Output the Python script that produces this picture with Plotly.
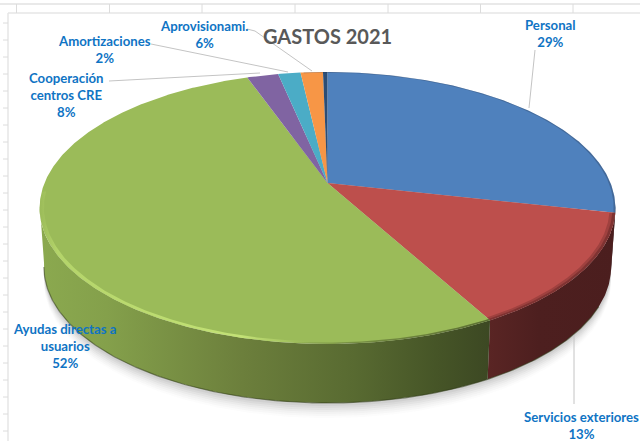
import numpy as np
import plotly.graph_objects as go

categories = ["Personal", "Servicios exteriores", "Ayudas directas a usuarios",
              "Cooperación centros CRE", "Amortizaciones", "Aprovisionami.", "Otros"]
values = [28.5, 13.5, 52.6, 2.1, 1.5, 1.5, 0.3]
colors = ["#4f81bd", "#bd4f4c", "#9bbb59", "#8064a2", "#4bacc6", "#f79646", "#2c4d75"]
label_text = ["Personal<br>29%", "Servicios exteriores<br>13%", "Ayudas directas a<br>usuarios<br>52%",
              "Cooperación<br>centros CRE<br>8%", "Amortizaciones<br>2%", "Aprovisionami.<br>6%"]
label_pos = [(550, 33), (581, 425), (64, 346), (66, 95), (104, 49), (204, 34)]
leaders = [([535, 529], [50, 108]), ([574, 574], [335, 404]), ([109, 260], [81, 73]),
           ([151, 288], [44, 72]), ([247, 255, 312], [29, 31, 71])]

CX, CY, A, B, K, DEPTH = 327.5, 183, 283, 131.4, 0.184, 60

def rim(theta, scale=1.0, dy=0.0, xs=1.0):
    x = A * np.sin(theta) * scale * xs / (1 + K * np.cos(theta))
    y = -B * np.cos(theta) * scale / (1 + K * np.cos(theta))
    return CX + x, CY + y + dy

def arc(a, b, n=None):
    n = n or max(3, int(abs(b - a) * 120))
    return np.linspace(a, b, n)

edges = 2 * np.pi * np.cumsum([0] + values) / sum(values)
fig = go.Figure()

def poly(x, y, color=None, gradient=None, **kw):
    d = dict(x=list(x), y=list(y), mode="lines", line=dict(width=0), fill="toself", hoverinfo="skip", showlegend=False)
    if gradient:
        d["fillgradient"] = dict(type="horizontal", colorscale=gradient)
    else:
        d["fillcolor"] = color
    d.update(kw)
    fig.add_trace(go.Scatter(**d))

ext = np.pi - np.arccos(K)   # right-most rim angle
ext_left = 2 * np.pi - ext

# soft shadow
full = arc(0, 2 * np.pi, 400)
for grow, alpha in [(14, .02), (12, .03), (10, .03), (8, .04), (6, .05), (4, .06), (2, .07)]:
    x, y = rim(full, 1, DEPTH + grow, 0.985)
    poly(x, y, f"rgba(80,80,80,{alpha})")

def wall(a, b, color=None, gradient=None):
    t = arc(a, b)
    x1, y1 = rim(t)
    x2, y2 = rim(t[::-1], 1, DEPTH - 1, 0.985)
    poly(np.r_[x1, x2], np.r_[y1, y2], color, gradient)

wall(ext - .03, edges[1], "#3a2a30")
wall(edges[1], edges[2], gradient=[[0, "#5a2524"], [.4, "#4d1f1f"], [1, "#4b1e1e"]])
wall(edges[2], ext_left + .03, gradient=[[0, "#8ba94f"], [.15, "#84a04b"], [.45, "#6c7f3c"],
                                           [.7, "#586a31"], [.88, "#465527"], [1, "#3c4823"]])
# dark lower edge of the wall
t = arc(edges[2] - .6, ext_left)
x, y = rim(t, 1, DEPTH - 1, 0.985)
fig.add_trace(go.Scatter(x=x, y=y, mode="lines", line=dict(color="rgba(50,60,25,.55)", width=1.2),
                         hoverinfo="skip", showlegend=False))

# top face
for i, c in enumerate(colors):
    t = arc(edges[i], edges[i + 1])
    x, y = rim(t)
    poly(np.r_[CX, x, CX], np.r_[CY, y, CY], c)

def crescent(a, b, width, color=None, gradient=None):
    t = arc(a, b)
    x1, y1 = rim(t)
    x2, y2 = rim(t[::-1], width)
    poly(np.r_[x1, x2], np.r_[y1, y2], color, gradient)

# bevel highlights / shading along the rim
crescent(edges[2], ext_left + .12, .985, gradient=[[0, "rgba(200,232,120,0)"], [.04, "rgba(200,232,120,.55)"], [.2, "rgba(200,232,120,.7)"],
                                             [.45, "rgba(205,235,125,.8)"], [.6, "rgba(190,220,115,0)"], [1, "rgba(190,220,115,0)"]])
crescent(edges[2], ext_left, .99, gradient=[[0, "rgba(50,60,25,0)"], [.55, "rgba(50,60,25,0)"], [.7, "rgba(50,60,25,.35)"], [1, "rgba(50,60,25,.6)"]])
crescent(edges[1], edges[2], .98, "rgba(70,25,25,.25)")
crescent(edges[1], edges[2], .99, "rgba(70,25,25,.35)")
crescent(edges[0] - .1, edges[1], .994, "rgba(40,50,70,.3)")

# leader lines
for lx, ly in leaders:
    fig.add_trace(go.Scatter(x=lx, y=ly, mode="lines", line=dict(color="#c4c4c4", width=1),
                             hoverinfo="skip", showlegend=False))

for txt, (x, y) in zip(label_text, label_pos):
    fig.add_annotation(x=x, y=y, text=f"<b>{txt}</b>", showarrow=False, align="center",
                       font=dict(family="Lato", size=13.2, color="#0f74c4"))
fig.add_annotation(x=327, y=36, text="<b>GASTOS 2021</b>", showarrow=False,
                   font=dict(family="Lato", size=20, color="#595959"))

# worksheet grid behind the chart
G = "#dcdcdc"
shapes = [dict(type="line", x0=0, x1=640, y0=4, y1=4, line=dict(color="#e2e2e2", width=1.5)),
          dict(type="line", x0=8, x1=640, y0=13, y1=13, line=dict(color="#e6e6e6", width=1.5)),
          dict(type="line", x0=8, x1=8, y0=13, y1=441, line=dict(color="#e6e6e6", width=1.5))]
for gx in [16.5, 109.5, 202, 295, 388, 480.5, 573]:
    shapes.append(dict(type="line", x0=gx, x1=gx, y0=4, y1=13, line=dict(color=G, width=1)))
for gy in range(23, 441, 17):
    shapes.append(dict(type="line", x0=3, x1=8, y0=gy, y1=gy, line=dict(color=G, width=1)))

fig.update_layout(width=640, height=441, margin=dict(l=0, r=0, t=0, b=0),
                  paper_bgcolor="white", plot_bgcolor="white", shapes=shapes, showlegend=False,
                  xaxis=dict(range=[0, 640], visible=False, fixedrange=True),
                  yaxis=dict(range=[441, 0], visible=False, fixedrange=True))
fig.write_html("out.html", config=dict(displayModeBar=False),
               post_script="document.body.style.margin='0';document.documentElement.style.overflow='hidden';")
